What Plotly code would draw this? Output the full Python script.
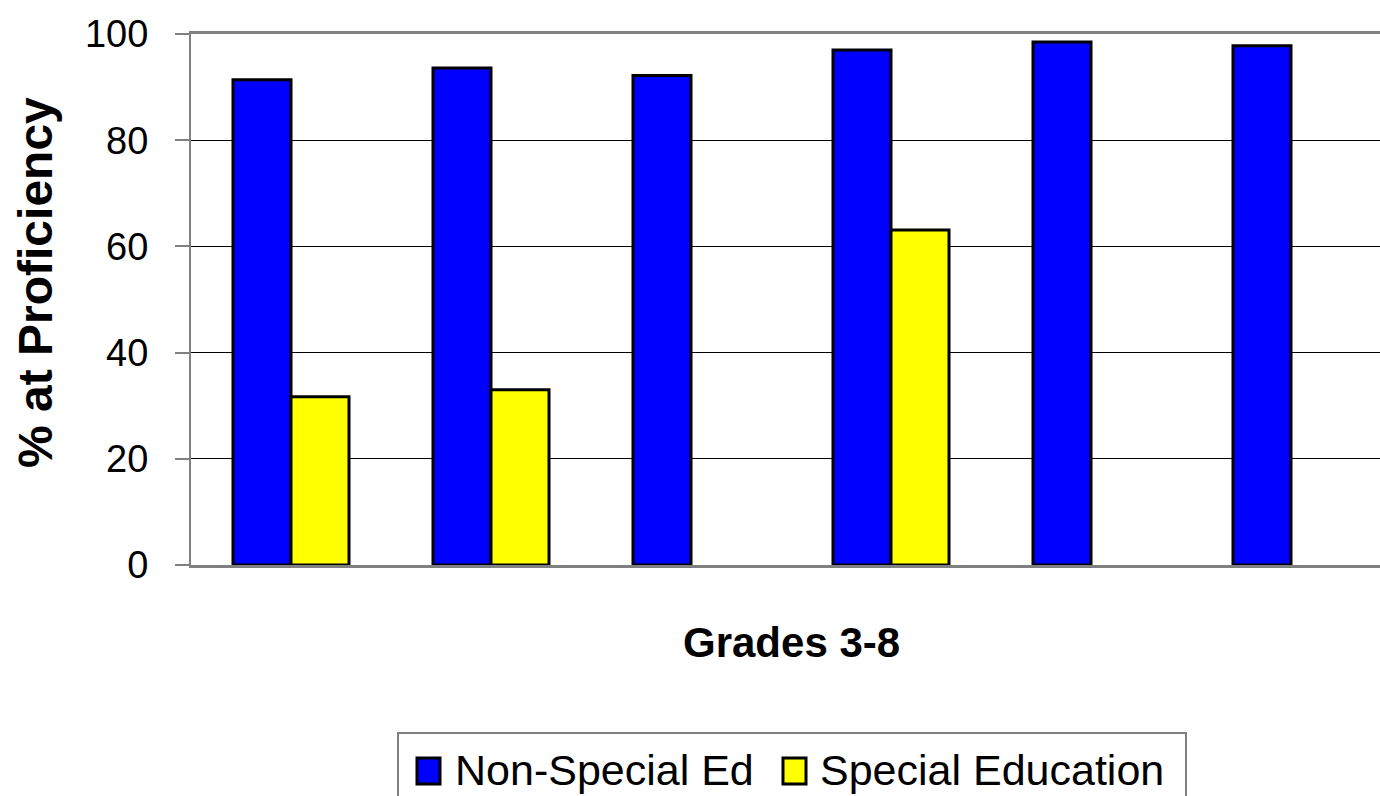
import plotly.graph_objects as go

categories = ["Grade 3", "Grade 4", "Grade 5", "Grade 6", "Grade 7", "Grade 8"]
non_special = [91.4, 93.6, 92.2, 97.0, 98.5, 97.8]
special_ed = [31.7, 33.0, None, 63.1, None, None]
series_names = ["Non-Special Ed", "Special Education"]
series_colors = ["#0000FF", "#FFFF00"]
y_ticks = [0, 20, 40, 60, 80, 100]

FONT = "Liberation Sans, Arial, sans-serif"

fig = go.Figure()
for name, vals, col in zip(series_names, [non_special, special_ed], series_colors):
    fig.add_trace(go.Bar(
        x=categories, y=vals, name=name,
        marker=dict(color=col, line=dict(color="#000000", width=3)),
        showlegend=False,
    ))

W, H = 1380, 796
L, R, T, B = 191, 0, 34, 231
PW, PH = W - L - R, H - T - B

fig.update_layout(
    width=W, height=H,
    margin=dict(l=L, r=R, t=T, b=B, pad=0, autoexpand=False),
    paper_bgcolor="white", plot_bgcolor="white",
    barmode="group", bargap=0.42, bargroupgap=0,
    font=dict(family=FONT, color="black"),
)
fig.update_xaxes(
    type="category", range=[-0.5, 5.445],
    showticklabels=False, ticks="",
    showline=True, linecolor="#808080", linewidth=3, mirror=True,
    showgrid=False, zeroline=False, automargin=False,
)
fig.update_yaxes(
    range=[0, 100], tickvals=y_ticks, ticktext=[str(v) for v in y_ticks],
    ticks="outside", ticklen=14, tickcolor="#808080", tickwidth=2,
    ticklabelstandoff=19,
    tickfont=dict(size=38, family=FONT, color="black"),
    showline=True, linecolor="#808080", linewidth=2,
    showgrid=True, gridcolor="#000000", gridwidth=1, zeroline=False, automargin=False,
)

def px_x(p):
    return (p - L) / PW

def px_y(p):
    return (H - B - p) / PH

annotations = [
    dict(text="<b>% at Proficiency</b>", x=px_x(35), y=px_y(283), xref="paper", yref="paper",
         textangle=-90, showarrow=False, xanchor="center", yanchor="middle",
         font=dict(size=48, family=FONT, color="black")),
    dict(text="<b>Grades 3-8</b>", x=px_x(791), y=px_y(642), xref="paper", yref="paper",
         showarrow=False, xanchor="center", yanchor="middle",
         font=dict(size=42, family=FONT, color="black")),
    dict(text=series_names[0], x=px_x(453), y=px_y(770), xref="paper", yref="paper",
         showarrow=False, xanchor="left", yanchor="middle",
         font=dict(size=43, family=FONT, color="black")),
    dict(text=series_names[1], x=px_x(818), y=px_y(770), xref="paper", yref="paper",
         showarrow=False, xanchor="left", yanchor="middle",
         font=dict(size=43, family=FONT, color="black")),
]

shapes = [
    dict(type="rect", xref="paper", yref="paper",
         x0=px_x(398), x1=px_x(1186), y0=px_y(733), y1=px_y(800),
         line=dict(color="#808080", width=2), fillcolor="rgba(0,0,0,0)"),
    dict(type="rect", xref="paper", yref="paper",
         x0=px_x(417), x1=px_x(440), y0=px_y(758), y1=px_y(784),
         line=dict(color="#000000", width=3), fillcolor=series_colors[0]),
    dict(type="rect", xref="paper", yref="paper",
         x0=px_x(783), x1=px_x(806), y0=px_y(758), y1=px_y(784),
         line=dict(color="#000000", width=3), fillcolor=series_colors[1]),
]

fig.update_layout(annotations=annotations, shapes=shapes)
fig.write_html(
    "out.html",
    config={"displayModeBar": False},
    post_script="document.body.style.margin='0px';document.body.style.overflow='hidden';",
)
